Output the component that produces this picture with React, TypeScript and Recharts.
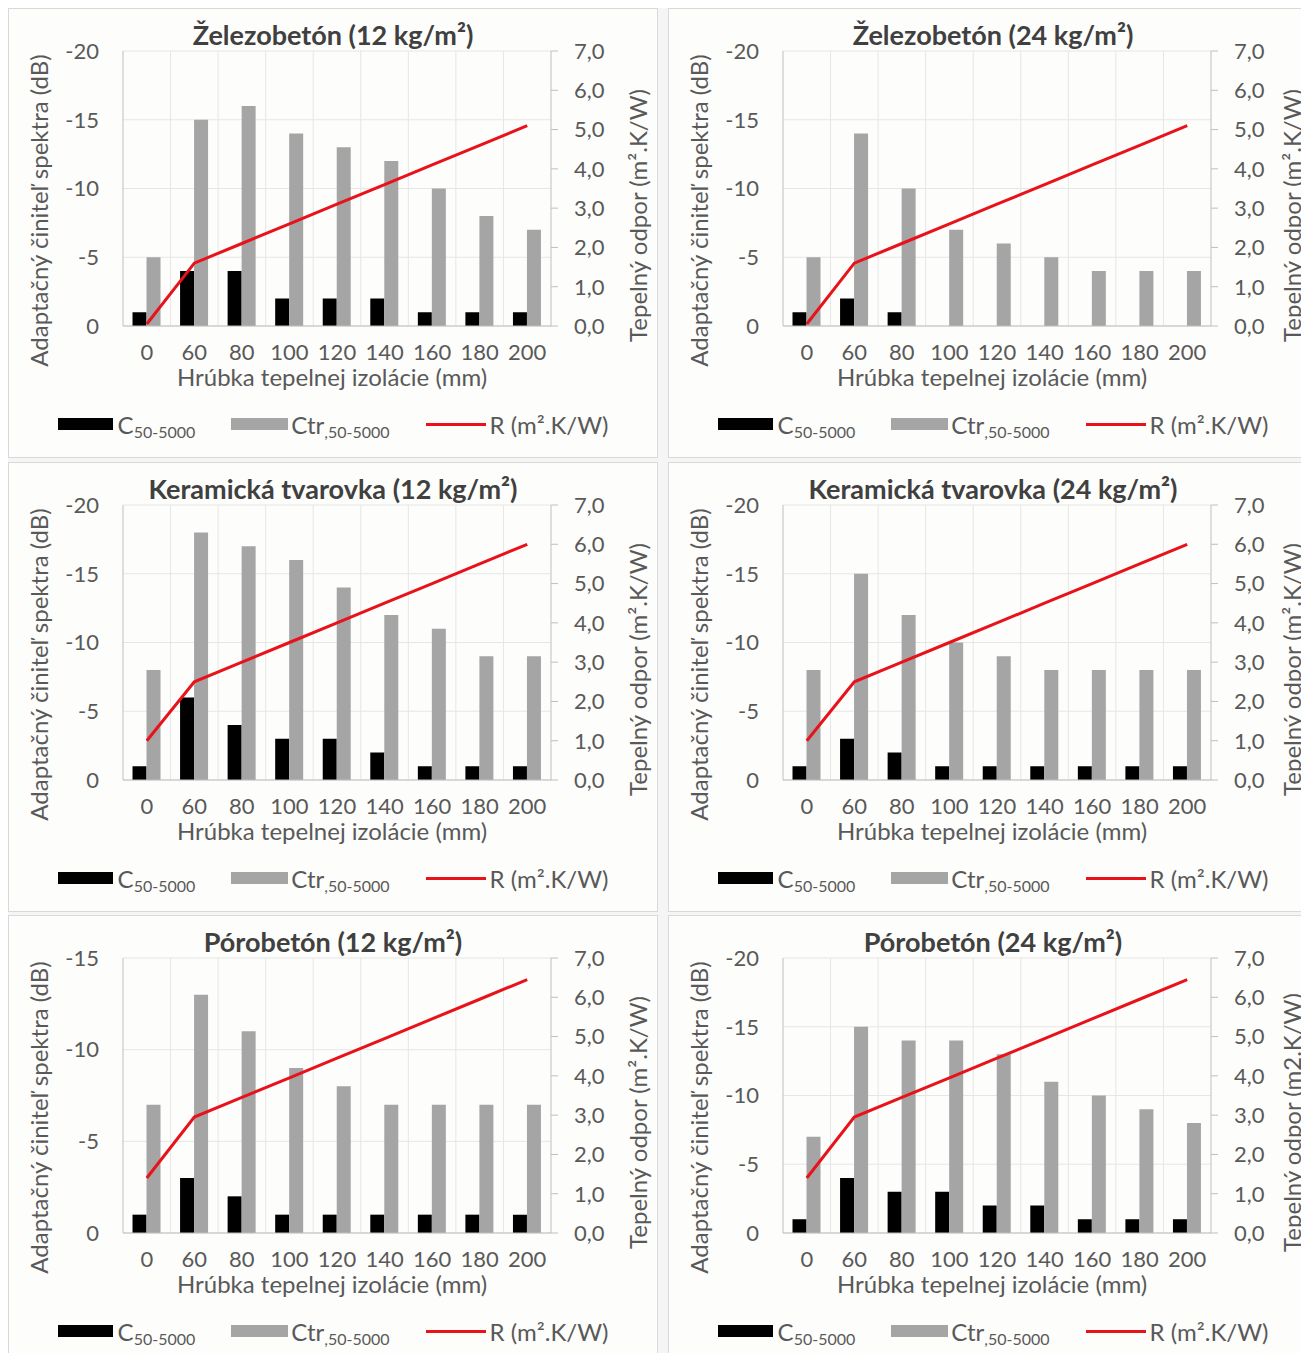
import { ComposedChart, Bar, Line, XAxis, YAxis, CartesianGrid, Legend } from 'recharts';

const categories = ['0', '60', '80', '100', '120', '140', '160', '180', '200'];

// Železobetón
const zb12C = [-1, -4, -4, -2, -2, -2, -1, -1, -1];
const zb12Ctr = [-5, -15, -16, -14, -13, -12, -10, -8, -7];
const zb24C = [-1, -2, -1, 0, 0, 0, 0, 0, 0];
const zb24Ctr = [-5, -14, -10, -7, -6, -5, -4, -4, -4];
const zbR = [0.05, 1.6, 2.1, 2.6, 3.1, 3.6, 4.1, 4.6, 5.1];

// Keramická tvarovka
const kt12C = [-1, -6, -4, -3, -3, -2, -1, -1, -1];
const kt12Ctr = [-8, -18, -17, -16, -14, -12, -11, -9, -9];
const kt24C = [-1, -3, -2, -1, -1, -1, -1, -1, -1];
const kt24Ctr = [-8, -15, -12, -10, -9, -8, -8, -8, -8];
const ktR = [1.0, 2.5, 3.0, 3.5, 4.0, 4.5, 5.0, 5.5, 6.0];

// Pórobetón
const pb12C = [-1, -3, -2, -1, -1, -1, -1, -1, -1];
const pb12Ctr = [-7, -13, -11, -9, -8, -7, -7, -7, -7];
const pb24C = [-1, -4, -3, -3, -2, -2, -1, -1, -1];
const pb24Ctr = [-7, -15, -14, -14, -13, -11, -10, -9, -8];
const pbR = [1.4, 2.95, 3.45, 3.95, 4.45, 4.95, 5.45, 5.95, 6.45];

const leftTicks20 = [0, -5, -10, -15, -20];
const leftTicks15 = [0, -5, -10, -15];
const rightTicks = [0, 1, 2, 3, 4, 5, 6, 7];

const TEXT = '#595959';
const AXIS = '#bfbfbf';
const GRID = '#e6e6e6';
const RED = '#e8121a';

function LegendRow() {
  const item = { display: 'flex', alignItems: 'center', color: TEXT, fontSize: 24 } as const;
  const sub = { fontSize: 16, position: 'relative', top: 4 } as const;
  return (
    <div style={{ display: 'flex', justifyContent: 'center', gap: 36, height: 30, alignItems: 'center' }}>
      <div style={item}>
        <span style={{ width: 55, height: 12, background: '#000', marginRight: 5 }} />
        <span>C<span style={sub}>50-5000</span></span>
      </div>
      <div style={item}>
        <span style={{ width: 57, height: 12, background: '#a5a5a5', marginRight: 3 }} />
        <span>Ctr<span style={sub}>,50-5000</span></span>
      </div>
      <div style={item}>
        <span style={{ width: 60, height: 3, background: RED, marginRight: 4 }} />
        <span>R (m².K/W)</span>
      </div>
    </div>
  );
}

interface PanelProps {
  title: string;
  c: number[];
  ctr: number[];
  r: number[];
  leftTicks: number[];
  rightLabel: string;
  rightDx: number;
  left: number;
  top: number;
}

function Panel({ title, c, ctr, r, leftTicks, rightLabel, rightDx, left, top }: PanelProps) {
  const rows = categories.map((cat, i) => ({ cat, c: c[i], ctr: ctr[i], r: r[i] }));
  const leftMin = Math.min(...leftTicks);
  return (
    <div
      style={{
        position: 'absolute', left, top, width: 650, height: 450, boxSizing: 'border-box',
        border: '1px solid #d9d9d9', background: '#fdfdfb',
      }}
    >
      <div style={{ position: 'absolute', top: 10, width: '100%', textAlign: 'center', fontWeight: 700, fontSize: 27, lineHeight: '32px', color: '#404040' }}>
        {title}
      </div>
      <ComposedChart
        width={648}
        height={448}
        data={rows}
        margin={{ top: 42, right: 0, bottom: 61, left: 0 }}
        barCategoryGap="20%"
        barGap={0}
      >
        <CartesianGrid
          yAxisId="left"
          stroke={GRID}
          verticalCoordinatesGenerator={({ offset }: any) =>
            categories.map((_, i) => offset.left + (i * offset.width) / categories.length).slice(1)
          }
        />
        <XAxis
          dataKey="cat"
          interval={0}
          height={70}
          tickLine={false}
          tickSize={6}
          tickMargin={12}
          axisLine={{ stroke: AXIS }}
          tick={{ fill: TEXT, fontSize: 22 }}
          label={{ value: 'Hrúbka tepelnej izolácie (mm)', position: 'insideBottom', offset: 10, dx: -5, fill: TEXT, fontSize: 24 }}
        />
        <YAxis
          yAxisId="left"
          orientation="left"
          domain={[leftMin, 0]}
          ticks={leftTicks}
          reversed
          width={114}
          tickLine={false}
          tickSize={6}
          tickMargin={18}
          axisLine={{ stroke: AXIS }}
          tick={{ fill: TEXT, fontSize: 22 }}
          label={{ value: 'Adaptačný činiteľ spektra (dB)', angle: -90, position: 'center', dx: -27, dy: 22, fill: TEXT, fontSize: 24 }}
        />
        <YAxis
          yAxisId="right"
          orientation="right"
          domain={[0, 7]}
          ticks={rightTicks}
          width={106}
          tickSize={7}
          tickMargin={16}
          axisLine={{ stroke: AXIS }}
          tickLine={{ stroke: AXIS }}
          tick={{ fill: TEXT, fontSize: 22 }}
          tickFormatter={(v: number) => v.toFixed(1).replace('.', ',')}
          label={{ value: rightLabel, angle: -90, position: 'center', dx: rightDx, dy: 27, fill: TEXT, fontSize: 24 }}
        />
        <Bar yAxisId="left" dataKey="c" fill="#000000" isAnimationActive={false} />
        <Bar yAxisId="left" dataKey="ctr" fill="#a5a5a5" isAnimationActive={false} />
        <Line yAxisId="right" type="linear" dataKey="r" stroke={RED} strokeWidth={3} dot={false} isAnimationActive={false} />
        <Legend
          verticalAlign="middle"
          align="center"
          layout="horizontal"
          wrapperStyle={{ top: 400, left: 0, width: 648 }}
          content={() => <LegendRow />}
        />
      </ComposedChart>
    </div>
  );
}

export default function App() {
  const rl = 'Tepelný odpor (m².K/W)';
  return (
    <div style={{ position: 'relative', width: 1301, height: 1345, overflow: 'hidden', background: '#f5f5f5', fontFamily: 'Lato, sans-serif' }}>
      <Panel title="Železobetón (12 kg/m²)" c={zb12C} ctr={zb12Ctr} r={zbR} leftTicks={leftTicks20} rightLabel={rl} rightDx={34} left={0} top={0} />
      <Panel title="Železobetón (24 kg/m²)" c={zb24C} ctr={zb24Ctr} r={zbR} leftTicks={leftTicks20} rightLabel={rl} rightDx={28} left={660} top={0} />
      <Panel title="Keramická tvarovka (12 kg/m²)" c={kt12C} ctr={kt12Ctr} r={ktR} leftTicks={leftTicks20} rightLabel={rl} rightDx={34} left={0} top={454} />
      <Panel title="Keramická tvarovka (24 kg/m²)" c={kt24C} ctr={kt24Ctr} r={ktR} leftTicks={leftTicks20} rightLabel={rl} rightDx={28} left={660} top={454} />
      <Panel title="Pórobetón (12 kg/m²)" c={pb12C} ctr={pb12Ctr} r={pbR} leftTicks={leftTicks15} rightLabel={rl} rightDx={34} left={0} top={907} />
      <Panel title="Pórobetón (24 kg/m²)" c={pb24C} ctr={pb24Ctr} r={pbR} leftTicks={leftTicks20} rightLabel="Tepelný odpor (m2.K/W)" rightDx={28} left={660} top={907} />
    </div>
  );
}
